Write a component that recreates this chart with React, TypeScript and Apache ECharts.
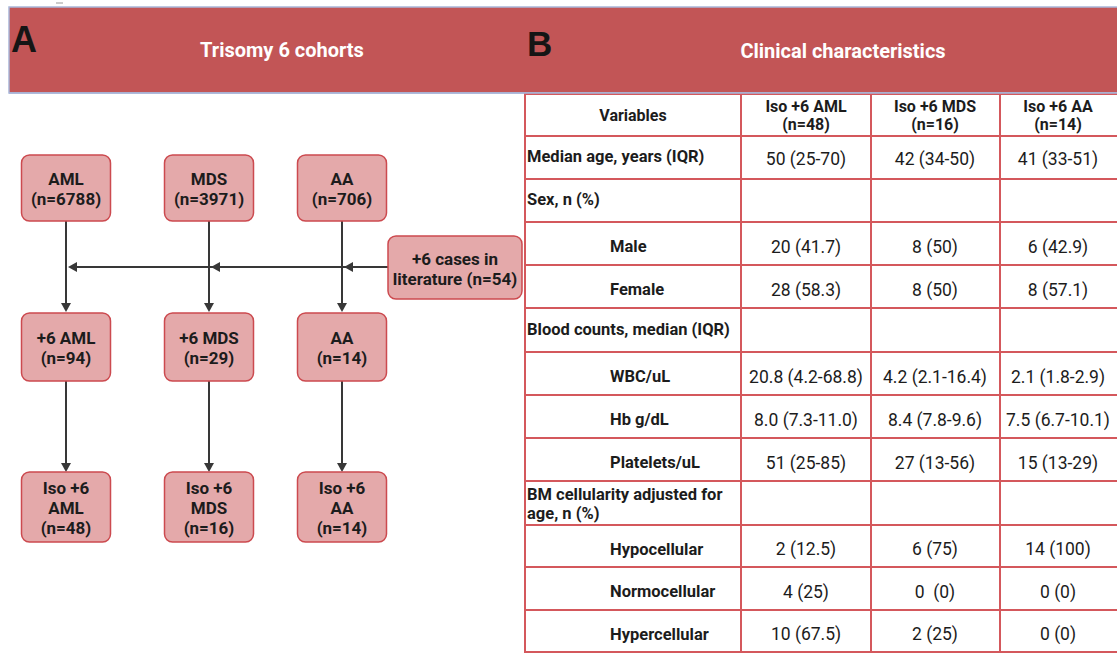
import React, { useEffect, useRef } from "react";
import * as echarts from "echarts";

// ---------- Data ----------
const panelTitles = ["Trisomy 6 cohorts", "Clinical characteristics"];
const panelLetters = ["A", "B"];

const cohortTop = [
  ["AML", "(n=6788)"],
  ["MDS", "(n=3971)"],
  ["AA", "(n=706)"],
];
const cohortMid = [
  ["+6 AML", "(n=94)"],
  ["+6 MDS", "(n=29)"],
  ["AA", "(n=14)"],
];
const cohortIso = [
  ["Iso +6", "AML", "(n=48)"],
  ["Iso +6", "MDS", "(n=16)"],
  ["Iso +6", "AA", "(n=14)"],
];
const literatureBox = ["+6 cases in", "literature (n=54)"];

const tableHeader = ["Variables", "Iso +6 AML\n(n=48)", "Iso +6 MDS\n(n=16)", "Iso +6 AA\n(n=14)"];
// [label, isSubItem, AML, MDS, AA]
const tableRows: [string, boolean, string, string, string][] = [
  ["Median age, years (IQR)", false, "50 (25-70)", "42 (34-50)", "41 (33-51)"],
  ["Sex, n (%)", false, "", "", ""],
  ["Male", true, "20 (41.7)", "8 (50)", "6 (42.9)"],
  ["Female", true, "28 (58.3)", "8 (50)", "8 (57.1)"],
  ["Blood counts, median (IQR)", false, "", "", ""],
  ["WBC/uL", true, "20.8 (4.2-68.8)", "4.2 (2.1-16.4)", "2.1 (1.8-2.9)"],
  ["Hb g/dL", true, "8.0 (7.3-11.0)", "8.4 (7.8-9.6)", "7.5 (6.7-10.1)"],
  ["Platelets/uL", true, "51 (25-85)", "27 (13-56)", "15 (13-29)"],
  ["BM cellularity adjusted for\nage, n (%)", false, "", "", ""],
  ["Hypocellular", true, "2 (12.5)", "6 (75)", "14 (100)"],
  ["Normocellular", true, "4 (25)", "0  (0)", "0 (0)"],
  ["Hypercellular", true, "10 (67.5)", "2 (25)", "0 (0)"],
];

// ---------- Styles ----------
const HEADER_RED = "#c25556";
const BOX_FILL = "#e4a9aa";
const BOX_STROKE = "#cc4a4f";
const LINE_RED = "#d4585c";
const ARROW = "#383838";
const TEXT = "#1c1c1c";
const FONT = "Roboto, 'Noto Sans', sans-serif";

function buildGraphics() {
  const els: any[] = [];

  // Header band
  els.push({
    type: "rect",
    shape: { x: 9, y: 7, width: 1120, height: 86 },
    style: { fill: HEADER_RED, stroke: "#a9b6d9", lineWidth: 1.5 },
  });
  els.push({
    type: "line",
    shape: { x1: 56, y1: 3, x2: 63, y2: 3 },
    style: { stroke: "#999", lineWidth: 1 },
  });
  els.push({
    type: "text",
    style: { text: panelLetters[0], x: 11, y: 39, fill: "#151515", font: `bold 36px 'Liberation Sans', Arial, sans-serif`, verticalAlign: "middle" },
  });
  els.push({
    type: "text",
    style: { text: panelLetters[1], x: 527, y: 43, fill: "#151515", font: `bold 35px 'Liberation Sans', Arial, sans-serif`, verticalAlign: "middle" },
  });
  els.push({
    type: "text",
    style: { text: panelTitles[0], x: 282, y: 50, fill: "#fff", font: `bold 20px ${FONT}`, align: "center", verticalAlign: "middle" },
  });
  els.push({
    type: "text",
    style: { text: panelTitles[1], x: 843, y: 51, fill: "#fff", font: `bold 20px ${FONT}`, align: "center", verticalAlign: "middle" },
  });

  // ---------- Flowchart ----------
  const colX = [66, 209, 342];
  const boxW = 89;
  const box = (cx: number, y0: number, h: number, lines: string[], w = boxW) => {
    els.push({
      type: "rect",
      shape: { x: cx - w / 2, y: y0, width: w, height: h, r: 8 },
      style: { fill: BOX_FILL, stroke: BOX_STROKE, lineWidth: 1.5 },
    });
    els.push({
      type: "text",
      style: {
        text: lines.join("\n"),
        x: cx,
        y: y0 + h / 2 + 1,
        fill: TEXT,
        font: `bold 17px ${FONT}`,
        lineHeight: 20,
        align: "center",
        verticalAlign: "middle",
      },
    });
  };
  const vArrow = (x: number, y1: number, tip: number) => {
    els.push({ type: "line", shape: { x1: x, y1, x2: x, y2: tip - 4 }, style: { stroke: ARROW, lineWidth: 2 } });
    els.push({
      type: "polygon",
      shape: { points: [[x - 5, tip - 9], [x + 5, tip - 9], [x, tip]] },
      style: { fill: ARROW },
    });
  };
  const lArrowHead = (tip: number, y: number) => {
    els.push({
      type: "polygon",
      shape: { points: [[tip, y], [tip + 9, y - 5], [tip + 9, y + 5]] },
      style: { fill: ARROW },
    });
  };

  // arrows first
  colX.forEach((x) => {
    vArrow(x, 221, 312);
    vArrow(x, 381, 472);
  });
  const hy = 267;
  els.push({ type: "line", shape: { x1: 389, y1: hy, x2: 72, y2: hy }, style: { stroke: ARROW, lineWidth: 2 } });
  colX.forEach((x) => lArrowHead(x + 2, hy));

  cohortTop.forEach((l, i) => box(colX[i], 155, 66, l));
  cohortMid.forEach((l, i) => box(colX[i], 313, 68, l));
  cohortIso.forEach((l, i) => box(colX[i], 472, 70, l));
  box(455, 236, 63, literatureBox, 134);

  // ---------- Table ----------
  const colLines = [525, 741, 871, 1000, 1200];
  const colCenters = [633, 806, 935, 1058];
  const rowLines = [94, 136, 179, 222, 265, 308, 352, 395, 438, 481, 525, 567, 610, 652];

  rowLines.forEach((y) => {
    els.push({ type: "line", shape: { x1: 525, y1: y, x2: 1117, y2: y }, style: { stroke: LINE_RED, lineWidth: 2 } });
  });
  colLines.forEach((x) => {
    els.push({ type: "line", shape: { x1: x, y1: 93, x2: x, y2: 653 }, style: { stroke: LINE_RED, lineWidth: 2 } });
  });
  // header thin blue line below red band
  els.push({ type: "line", shape: { x1: 9, y1: 93, x2: 1117, y2: 93 }, style: { stroke: "#a9b6d9", lineWidth: 1.5 } });

  tableHeader.forEach((h, i) => {
    els.push({
      type: "text",
      style: {
        text: h,
        x: colCenters[i],
        y: (rowLines[0] + rowLines[1]) / 2,
        fill: TEXT,
        font: `bold 16px ${FONT}`,
        lineHeight: 18,
        align: "center",
        verticalAlign: "middle",
      },
    });
  });

  tableRows.forEach((row, r) => {
    const yTop = rowLines[r + 1];
    const yBot = rowLines[r + 2];
    const yc = (yTop + yBot) / 2;
    const [label, sub, a, b, c] = row;
    const multi = label.includes("\n");
    const labelY = multi ? yTop + 23 : sub ? yc + 3 : yc - 1;
    els.push({
      type: "text",
      style: {
        text: label,
        x: sub ? 610 : 527,
        y: labelY,
        fill: TEXT,
        font: `bold 16.5px ${FONT}`,
        lineHeight: 19,
        align: "left",
        verticalAlign: "middle",
      },
    });
    [a, b, c].forEach((v, i) => {
      if (!v) return;
      els.push({
        type: "text",
        style: {
          text: v,
          x: colCenters[i + 1],
          y: sub ? yc + 3 : yc + 1,
          fill: TEXT,
          font: `17.5px ${FONT}`,
          align: "center",
          verticalAlign: "middle",
        },
      });
    });
  });

  return els;
}

export default function App() {
  const ref = useRef<HTMLDivElement>(null);
  useEffect(() => {
    if (!ref.current) return;
    const chart = echarts.init(ref.current, undefined, { renderer: "svg" });
    chart.setOption({
      animation: false,
      backgroundColor: "#ffffff",
      graphic: { elements: buildGraphics() },
    });
    return () => chart.dispose();
  }, []);
  return (
    <div
      ref={ref}
      style={{ position: "fixed", left: 0, top: 0, width: 1117, height: 653, background: "#fff" }}
    />
  );
}
